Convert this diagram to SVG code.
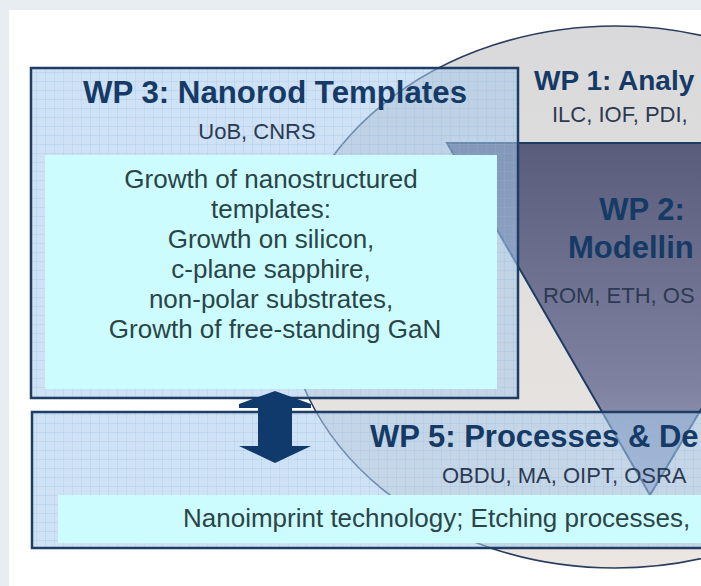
<svg xmlns="http://www.w3.org/2000/svg" width="701" height="586" viewBox="0 0 701 586">
  <defs>
    <!-- light blue "small grid" fill used by the work-package frames -->
    <pattern id="grid" patternUnits="userSpaceOnUse" width="9" height="9">
      <rect width="9" height="9" fill="#a8caec" fill-opacity="0.55"/>
      <path d="M0 0.5H9M0.5 0V9" stroke="#8fb6e0" stroke-opacity="0.22" stroke-width="1"/>
    </pattern>
    <linearGradient id="discFill" x1="0" y1="0" x2="0" y2="1">
      <stop offset="0" stop-color="#d9d9db"/>
      <stop offset="1" stop-color="#ebe6e1"/>
    </linearGradient>
    <linearGradient id="wedgeFill" x1="0" y1="0" x2="0" y2="1">
      <stop offset="0" stop-color="#595c7b"/>
      <stop offset="0.7" stop-color="#7f83a1"/>
      <stop offset="1" stop-color="#a3a8c2"/>
    </linearGradient>
    <style>
      .title { font-family: "Liberation Sans", Arial, sans-serif; font-weight: bold; font-size: 31px; fill: #163a66; }
      .partners { font-family: "Liberation Sans", Arial, sans-serif; font-size: 22px; fill: #2b3a52; }
      .body { font-family: "Liberation Sans", Arial, sans-serif; font-size: 26px; fill: #2a4548; }
      .frame { fill: url(#grid); stroke: #1e3c64; stroke-width: 2.5; }
      .panel { fill: #ccfcfe; }
    </style>
  </defs>

  <!-- page background -->
  <rect width="701" height="586" fill="#e7edf0"/>
  <rect x="9" y="10" width="692" height="576" fill="#ffffff"/>

  <!-- WP 1: large disc -->
  <g id="wp1">
    <ellipse cx="615" cy="297" rx="330" ry="271" fill="url(#discFill)" stroke="#2a3d5e" stroke-width="1.6"/>
    <text class="title" x="534" y="90" style="font-size:28px">WP 1: Analy</text>
    <text class="partners" x="552" y="122">ILC, IOF, PDI,</text>
  </g>

  <!-- WP 2: inverted wedge inside the disc -->
  <g id="wp2">
    <polygon points="447,143 860,143 650,495" fill="url(#wedgeFill)" stroke="#1e3c64" stroke-width="2"/>
    <text class="title" x="642" y="220" text-anchor="middle">WP 2:</text>
    <text class="title" x="568" y="258">Modellin</text>
    <text class="partners" x="543" y="303" fill="#1f3050">ROM, ETH, OS</text>
  </g>

  <!-- WP 3: template growth -->
  <g id="wp3">
    <rect class="frame" x="31" y="68" width="487" height="330"/>
    <rect class="panel" x="45" y="155" width="452" height="234"/>
    <text class="title" x="275" y="103" text-anchor="middle" textLength="384" lengthAdjust="spacingAndGlyphs">WP 3: Nanorod Templates</text>
    <text class="partners" x="257" y="139" text-anchor="middle">UoB, CNRS</text>
    <g class="body" text-anchor="middle">
      <text x="271" y="188">Growth of nanostructured</text>
      <text x="271" y="218">templates:</text>
      <text x="271" y="248">Growth on silicon,</text>
      <text x="271" y="278">c-plane sapphire,</text>
      <text x="271" y="308">non-polar substrates,</text>
      <text x="275" y="338">Growth of free-standing GaN</text>
    </g>
  </g>

  <!-- WP 5: processes band -->
  <g id="wp5">
    <rect class="frame" x="32" y="412" width="690" height="136"/>
    <rect class="panel" x="58" y="495" width="660" height="48"/>
    <text class="title" x="370" y="447">WP 5: Processes &amp; De</text>
    <text class="partners" x="442" y="483">OBDU, MA, OIPT, OSRA</text>
    <text class="body" x="183" y="527">Nanoimprint technology; Etching processes,</text>
  </g>

  <!-- connector between WP 3 and WP 5 -->
  <g id="connectors">
    <polygon points="275,391 311,404 311,408 292,408 292,446 311,446 275,463 239,446 258,446 258,408 239,408 239,404" fill="#0f3a6b"/>
  </g>
</svg>
